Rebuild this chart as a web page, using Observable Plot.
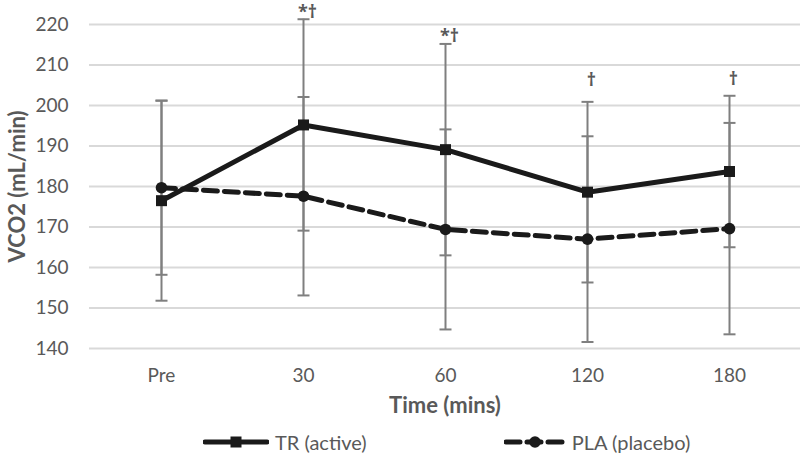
<!DOCTYPE html>
<html>
<head>
<meta charset="utf-8">
<script src="https://cdn.jsdelivr.net/npm/d3@7"></script>
<script src="https://cdn.jsdelivr.net/npm/@observablehq/plot@0.6"></script>
<style>
  html, body { margin: 0; padding: 0; background: #fff; }
  #chart { width: 800px; }
  #legend { display: flex; height: 30px; padding-top: 3px; align-items: center; font-family: Lato, sans-serif; font-size: 20px; color: #595959; }
  .item { display: flex; align-items: center; }
  .item svg { margin-right: 6px; }
</style>
</head>
<body>
<div id="chart"></div>
<div id="legend"></div>
<script>
const times = ["Pre", "30", "60", "120", "180"];
const trMean = [176.5, 195.2, 189.1, 178.6, 183.7];
const trSD = [24.7, 26.1, 26.1, 22.3, 18.7];
const plaMean = [179.7, 177.6, 169.4, 167.0, 169.6];
const plaSD = [21.5, 24.5, 24.7, 25.4, 26.1];
const annotations = ["", "*\u2020", "*\u2020", "\u2020", "\u2020"];
const annotationY = [null, 221.6, 215.6, 204.9, 205.1];
const yTicks = [140, 150, 160, 170, 180, 190, 200, 210, 220];
const seriesNames = ["TR (active)", "PLA (placebo)"];

const tr = times.map((t, i) => ({time: t, mean: trMean[i], lo: trMean[i] - trSD[i], hi: trMean[i] + trSD[i]}));
const pla = times.map((t, i) => ({time: t, mean: plaMean[i], lo: plaMean[i] - plaSD[i], hi: plaMean[i] + plaSD[i]}));
const notes = times.map((t, i) => ({time: t, note: annotations[i], y: annotationY[i]})).filter(d => d.note);
const bars = [...tr, ...pla];
const ends = bars.flatMap(d => [{time: d.time, v: d.lo}, {time: d.time, v: d.hi}]);

const capSymbol = { draw(ctx) { ctx.moveTo(-6, 0); ctx.lineTo(6, 0); } };
const dark = "#1a1a1a";
const gray = "#595959";

const plot = Plot.plot({
  width: 800,
  height: 424,
  marginLeft: 89,
  marginRight: 0,
  marginTop: 24,
  marginBottom: 76,
  style: {fontFamily: "Lato, sans-serif", background: "white", overflow: "visible"},
  x: {type: "point", domain: times, padding: 0.5},
  y: {domain: [140, 220]},
  marks: [
    Plot.gridY(yTicks, {stroke: "#d9d9d9", strokeWidth: 2, strokeOpacity: 1}),
    Plot.axisY({ticks: yTicks, tickSize: 0, tickPadding: 21, fontSize: 19, fill: gray, label: null}),
    Plot.axisX({tickSize: 0, tickPadding: 20, fontSize: 19, fill: gray, label: null}),
    Plot.ruleX(bars, {x: "time", y1: "lo", y2: "hi", stroke: "#7f7f7f", strokeWidth: 2}),
    Plot.dot(ends, {x: "time", y: "v", symbol: capSymbol, stroke: "#7f7f7f", strokeWidth: 2, fill: "none"}),
    Plot.line(pla, {x: "time", y: "mean", stroke: dark, strokeWidth: 5, strokeDasharray: "14,7"}),
    Plot.line(tr, {x: "time", y: "mean", stroke: dark, strokeWidth: 5}),
    Plot.dot(pla, {x: "time", y: "mean", symbol: "circle", r: 5.8, fill: dark, stroke: "none"}),
    Plot.dot(tr, {x: "time", y: "mean", symbol: "square", r: 6.2, fill: dark, stroke: "none"}),
    Plot.text(notes, {x: "time", y: "y", text: "note", dx: 4, lineAnchor: "bottom", fontSize: 18, fontWeight: "bold", fill: gray, fontFamily: "'Open Sans', sans-serif"}),
    Plot.text(["VCO2 (mL/min)"], {frameAnchor: "left", text: d => d, rotate: -90, textAnchor: "middle", dx: -72, fontSize: 22, fontWeight: "bold", fill: gray}),
    Plot.text(["Time (mins)"], {frameAnchor: "bottom", text: d => d, dy: 64, fontSize: 22, fontWeight: "bold", fill: gray})
  ]
});
document.getElementById("chart").appendChild(plot);

// Legend
const legend = document.getElementById("legend");
legend.style.paddingLeft = "203px";
seriesNames.forEach((name, i) => {
  const item = document.createElement("div");
  item.className = "item";
  if (i === 1) item.style.marginLeft = "137px";
  const w = i === 0 ? 66 : 62;
  const marker = i === 0
    ? `<rect x="${w/2 - 5.5}" y="4.5" width="11" height="11" fill="${dark}"/>`
    : `<circle cx="${w/2}" cy="10" r="5.8" fill="${dark}"/>`;
  const dash = i === 0 ? "" : `stroke-dasharray="14,7"`;
  item.innerHTML = `<svg width="${w}" height="20"><line x1="2" x2="${w-2}" y1="10" y2="10" stroke="${dark}" stroke-width="5" stroke-linecap="round" ${dash}/>${marker}</svg><span>${name}</span>`;
  legend.appendChild(item);
});
</script>
</body>
</html>
